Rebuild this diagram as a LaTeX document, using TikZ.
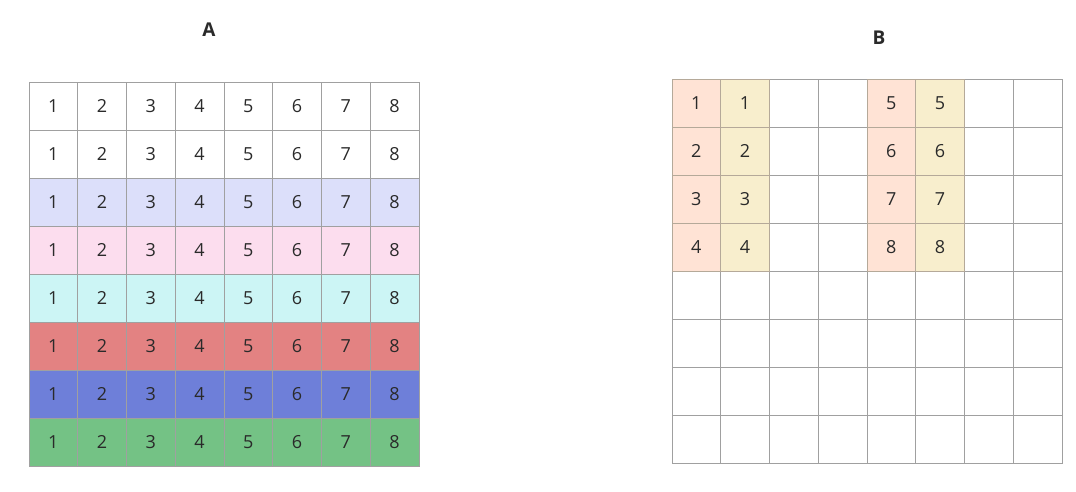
\documentclass[tikz,border=0pt]{standalone}
\usepackage{fontspec}
\setmainfont{Open Sans}
\definecolor{gridgray}{HTML}{A0A0A0}
\definecolor{numtext}{HTML}{2A2A2A}
\definecolor{rowC}{HTML}{DCDFFA}
\definecolor{rowD}{HTML}{FCDDEE}
\definecolor{rowE}{HTML}{CCF5F5}
\definecolor{rowF}{HTML}{E38282}
\definecolor{rowG}{HTML}{6E7FD9}
\definecolor{rowH}{HTML}{74C285}
\definecolor{borange}{HTML}{FFE3D5}
\definecolor{byellow}{HTML}{F8EECD}
\definecolor{tanline}{HTML}{B5A999}
\begin{document}
\begin{tikzpicture}[x=1pt,y=-1pt,
  cell/.style={draw=gridgray, line width=1pt, minimum width=48.75pt, minimum height=48pt,
    inner sep=0pt, font=\fontsize{18}{18}\selectfont, text=numtext},
  tcell/.style={cell, draw=tanline},
  title/.style={font=\bfseries\fontsize{19}{19}\selectfont, text=numtext}]
\useasboundingbox (0,0) rectangle (1076,491);
\node[title] (titleA) at (209,30) {A};
\node[title] (titleB) at (879,38) {B};
% grid A
\foreach \r/\c in {1/white,2/white,3/rowC,4/rowD,5/rowE,6/rowF,7/rowG,8/rowH}{
  \foreach \k in {1,...,8}{
    \node[cell, fill=\c] (a-\r-\k) at ({29+48.75*(\k-0.5)},{82+48*(\r-0.5)}) {\k};
  }
}
% grid B blank cells
\foreach \r in {1,...,4}{
  \foreach \k in {3,4,7,8}{
    \node[cell] (b-\r-\k) at ({672+48.75*(\k-0.5)},{79+48*(\r-0.5)}) {};
  }
}
\foreach \r in {5,...,8}{
  \foreach \k in {1,...,8}{
    \node[cell] (b-\r-\k) at ({672+48.75*(\k-0.5)},{79+48*(\r-0.5)}) {};
  }
}
% grid B coloured cells
\foreach \r in {1,...,4}{
  \pgfmathtruncatemacro{\v}{\r+4}
  \node[tcell, fill=borange] (b-\r-1) at ({672+48.75*0.5},{79+48*(\r-0.5)}) {\r};
  \node[tcell, fill=byellow] (b-\r-2) at ({672+48.75*1.5},{79+48*(\r-0.5)}) {\r};
  \node[tcell, fill=borange] (b-\r-5) at ({672+48.75*4.5},{79+48*(\r-0.5)}) {\v};
  \node[tcell, fill=byellow] (b-\r-6) at ({672+48.75*5.5},{79+48*(\r-0.5)}) {\v};
}
\end{tikzpicture}
\end{document}
